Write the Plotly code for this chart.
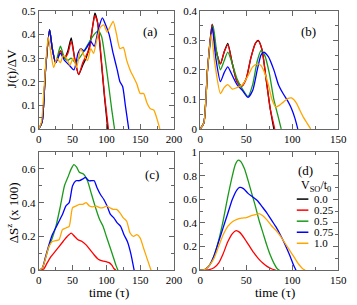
import plotly.graph_objects as go

# ---------------- data ----------------
series_names = ["0.0", "0.25", "0.5", "0.75", "1.0"]
series_colors = ["#000000", "#ff0000", "#1a9a1a", "#0000ff", "#ffa500"]

# panel (a)  J(t)/dV
a_black_t = [0, 5, 10, 16, 20, 25, 32, 38, 43, 48, 53, 59, 65, 70, 75, 80, 83, 87, 92, 97, 102]
a_black_y = [0, 0.03, 0.25, 0.42, 0.34, 0.28, 0.33, 0.30, 0.33, 0.385, 0.30, 0.23, 0.27, 0.30, 0.35, 0.44, 0.49, 0.45, 0.30, 0.14, 0]
a_red_t = [0, 5, 10, 16, 20, 25, 32, 38, 43, 48, 53, 59, 65, 70, 75, 80, 83, 87, 92, 97, 103]
a_red_y = [0, 0.03, 0.25, 0.42, 0.34, 0.28, 0.33, 0.30, 0.32, 0.37, 0.30, 0.23, 0.28, 0.31, 0.34, 0.44, 0.48, 0.45, 0.31, 0.15, 0]
a_green_t = [0, 5, 10, 16, 20, 25, 32, 38, 43, 48, 54, 60, 67, 75, 82, 88, 93, 98, 104, 108, 112]
a_green_y = [0, 0.03, 0.25, 0.42, 0.34, 0.28, 0.35, 0.30, 0.29, 0.30, 0.28, 0.30, 0.33, 0.37, 0.40, 0.415, 0.39, 0.30, 0.17, 0.08, 0]
a_blue_t = [0, 5, 10, 16, 20, 25, 32, 38, 45, 52, 58, 62, 67, 72, 77, 82, 88, 94, 99, 104, 110, 116, 120, 124, 128, 133]
a_blue_y = [0, 0.03, 0.25, 0.42, 0.34, 0.28, 0.32, 0.29, 0.27, 0.25, 0.32, 0.34, 0.33, 0.35, 0.37, 0.35, 0.42, 0.47, 0.44, 0.40, 0.32, 0.25, 0.20, 0.18, 0.10, 0]
a_orange_t = [0, 4, 9, 14, 18, 22, 27, 32, 36, 41, 46, 51, 56, 62, 67, 72, 77, 81, 86, 91, 96, 101, 105, 110, 115, 120, 125, 130, 135, 140, 145, 150, 155, 160, 165, 170, 174, 179]
a_orange_y = [0, 0.03, 0.22, 0.39, 0.32, 0.26, 0.30, 0.28, 0.31, 0.30, 0.27, 0.30, 0.26, 0.34, 0.31, 0.29, 0.34, 0.32, 0.38, 0.43, 0.44, 0.41, 0.43, 0.455, 0.40, 0.34, 0.345, 0.29, 0.25, 0.22, 0.19, 0.15, 0.15, 0.11, 0.085, 0.08, 0.05, 0]

# panel (b)  J(t)/dV
b_black_t = [0, 4, 8, 13, 17, 22, 26, 30, 35, 40, 45, 50, 55, 60, 63, 67, 72, 76, 80]
b_black_y = [0, 0.02, 0.2, 0.355, 0.27, 0.22, 0.26, 0.29, 0.22, 0.16, 0.145, 0.17, 0.24, 0.29, 0.30, 0.27, 0.16, 0.07, 0]
b_red_t = [0, 4, 8, 13, 17, 22, 26, 30, 35, 40, 45, 50, 55, 60, 63, 67, 72, 76, 81]
b_red_y = [0, 0.02, 0.2, 0.353, 0.27, 0.22, 0.26, 0.285, 0.22, 0.16, 0.145, 0.17, 0.24, 0.29, 0.298, 0.27, 0.16, 0.07, 0]
b_green_t = [0, 4, 8, 14, 18, 22, 26, 30, 35, 40, 45, 52, 57, 62, 66, 70, 75, 80, 84, 88]
b_green_y = [0, 0.02, 0.2, 0.35, 0.26, 0.2, 0.23, 0.26, 0.22, 0.17, 0.14, 0.11, 0.15, 0.23, 0.265, 0.25, 0.19, 0.10, 0.05, 0]
b_blue_t = [0, 4, 8, 13, 17, 22, 26, 30, 35, 40, 46, 52, 57, 62, 66, 69, 74, 80, 85, 90, 95, 99, 103, 106]
b_blue_y = [0, 0.02, 0.2, 0.345, 0.24, 0.16, 0.19, 0.21, 0.18, 0.15, 0.13, 0.107, 0.13, 0.2, 0.25, 0.26, 0.245, 0.2, 0.15, 0.12, 0.095, 0.07, 0.035, 0]
b_orange_t = [0, 4, 8, 12, 16, 22, 26, 30, 35, 40, 46, 52, 57, 62, 66, 70, 74, 78, 82, 86, 90, 95, 99, 104, 108, 112, 116, 120]
b_orange_y = [0, 0.02, 0.2, 0.32, 0.22, 0.12, 0.14, 0.15, 0.135, 0.14, 0.15, 0.18, 0.21, 0.22, 0.215, 0.19, 0.15, 0.10, 0.075, 0.08, 0.09, 0.103, 0.105, 0.09, 0.065, 0.04, 0.02, 0]

# panel (c)  dS^z (x 100)  (V_SO = 0 gives zero spin accumulation)
c_black_t = [0, 100]
c_black_y = [0, 0]
c_red_t = [0, 7, 12, 18, 24, 30, 36, 42, 48, 53, 58, 64, 70, 76, 82, 88, 94, 100, 104, 108, 111, 114]
c_red_y = [0, 0.005, 0.04, 0.08, 0.11, 0.14, 0.17, 0.2, 0.22, 0.2, 0.18, 0.17, 0.15, 0.12, 0.09, 0.065, 0.055, 0.05, 0.045, 0.03, 0.01, 0]
c_green_t = [0, 5, 10, 15, 20, 26, 32, 38, 43, 48, 52, 56, 60, 66, 72, 78, 84, 90, 95, 100, 105, 110, 114, 117]
c_green_y = [0, 0.01, 0.07, 0.14, 0.19, 0.27, 0.38, 0.5, 0.55, 0.6, 0.625, 0.61, 0.58, 0.57, 0.53, 0.45, 0.37, 0.3, 0.26, 0.2, 0.14, 0.08, 0.03, 0]
c_blue_t = [0, 5, 10, 15, 20, 25, 30, 35, 40, 45, 50, 55, 60, 65, 69, 74, 78, 82, 86, 91, 96, 101, 106, 111, 116, 121, 126, 131, 136, 141]
c_blue_y = [0, 0.01, 0.08, 0.15, 0.21, 0.25, 0.29, 0.33, 0.38, 0.4, 0.5, 0.53, 0.53, 0.54, 0.55, 0.53, 0.53, 0.53, 0.49, 0.45, 0.42, 0.38, 0.33, 0.31, 0.28, 0.26, 0.21, 0.17, 0.1, 0]
c_orange_t = [0, 5, 10, 15, 20, 25, 30, 35, 40, 45, 50, 55, 60, 65, 70, 75, 80, 85, 90, 95, 100, 105, 110, 115, 120, 125, 130, 135, 140, 145, 150, 155, 160, 166]
c_orange_y = [0, 0.01, 0.07, 0.14, 0.17, 0.175, 0.18, 0.24, 0.25, 0.26, 0.37, 0.38, 0.39, 0.39, 0.4, 0.38, 0.375, 0.38, 0.37, 0.37, 0.38, 0.37, 0.36, 0.36, 0.34, 0.31, 0.29, 0.22, 0.2, 0.21, 0.19, 0.13, 0.07, 0]

# panel (d)  dS^z (x 100)
d_black_t = [0, 100]
d_black_y = [0, 0]
d_red_t = [0, 10, 15, 20, 25, 30, 35, 39, 43, 48, 53, 58, 63, 68, 73, 78, 82]
d_red_y = [0, 0.005, 0.02, 0.06, 0.14, 0.24, 0.31, 0.335, 0.32, 0.27, 0.21, 0.15, 0.1, 0.06, 0.03, 0.01, 0]
d_green_t = [0, 5, 10, 15, 20, 25, 30, 35, 38, 41, 44, 48, 52, 56, 60, 64, 68, 72, 76, 80, 84, 86]
d_green_y = [0, 0.005, 0.04, 0.12, 0.25, 0.42, 0.62, 0.8, 0.89, 0.93, 0.92, 0.86, 0.76, 0.65, 0.54, 0.42, 0.32, 0.22, 0.13, 0.06, 0.01, 0]
d_blue_t = [0, 5, 10, 15, 20, 25, 30, 35, 40, 43, 47, 52, 57, 62, 67, 72, 77, 82, 87, 92, 97, 101, 104]
d_blue_y = [0, 0.005, 0.04, 0.12, 0.24, 0.36, 0.48, 0.6, 0.68, 0.7, 0.69, 0.65, 0.62, 0.59, 0.54, 0.49, 0.43, 0.37, 0.3, 0.22, 0.13, 0.05, 0]
d_orange_t = [0, 5, 10, 15, 20, 25, 30, 35, 40, 45, 50, 55, 60, 64, 68, 72, 77, 82, 87, 92, 97, 102, 107, 111, 114]
d_orange_y = [0, 0.005, 0.04, 0.1, 0.2, 0.3, 0.37, 0.41, 0.43, 0.44, 0.445, 0.46, 0.47, 0.478, 0.46, 0.43, 0.38, 0.34, 0.29, 0.23, 0.17, 0.11, 0.05, 0.015, 0]

panels = {
    "a": [(a_black_t, a_black_y), (a_red_t, a_red_y), (a_green_t, a_green_y), (a_blue_t, a_blue_y), (a_orange_t, a_orange_y)],
    "b": [(b_black_t, b_black_y), (b_red_t, b_red_y), (b_green_t, b_green_y), (b_blue_t, b_blue_y), (b_orange_t, b_orange_y)],
    "c": [(c_black_t, c_black_y), (c_red_t, c_red_y), (c_green_t, c_green_y), (c_blue_t, c_blue_y), (c_orange_t, c_orange_y)],
    "d": [(d_black_t, d_black_y), (d_red_t, d_red_y), (d_green_t, d_green_y), (d_blue_t, d_blue_y), (d_orange_t, d_orange_y)],
}
axis_ids = {"a": ("x", "y"), "b": ("x2", "y2"), "c": ("x3", "y3"), "d": ("x4", "y4")}

# ---------------- figure ----------------
W, H = 357, 305
fig = go.Figure()
for key, curves in panels.items():
    xa, ya = axis_ids[key]
    for (t, v), name, col in zip(curves, series_names, series_colors):
        fig.add_trace(go.Scatter(x=t, y=v, mode="lines", name=name, xaxis=xa, yaxis=ya,
                                 line=dict(color=col, width=1.3, shape="spline", smoothing=0.6),
                                 visible=True if any(v) else False,
                                 showlegend=False, hoverinfo="skip"))

FONT = '"Liberation Serif", "Times New Roman", Times, serif'
AX = "#666666"
TICK = 11

def xax(dom, rng, anchor):
    return dict(domain=dom, range=rng, anchor=anchor, dtick=50, tick0=0,
                ticks="inside", ticklen=5, tickcolor=AX, showline=True, linecolor=AX,
                linewidth=1, mirror="ticks", showgrid=False, zeroline=False,
                ticklabeloverflow="allow",
                tickfont=dict(family=FONT, size=TICK, color="black"),
                minor=dict(dtick=25, ticks="inside", ticklen=3, tickcolor=AX, showgrid=False))

def yax(dom, rng, dt, mdt, anchor):
    return dict(domain=dom, range=rng, anchor=anchor, dtick=dt, tick0=0,
                ticks="inside", ticklen=5, tickcolor=AX, showline=True, linecolor=AX,
                linewidth=1, mirror="ticks", showgrid=False, zeroline=False,
                tickfont=dict(family=FONT, size=TICK, color="black"),
                minor=dict(dtick=mdt, ticks="inside", ticklen=3, tickcolor=AX, showgrid=False))

xl = [37 / W, 177 / W]
xr = [204 / W, 347 / W]
yt = [1 - 128 / H, 1 - 5 / H]
yb = [1 - 275 / H, 1 - 152 / H]

fig.update_layout(
    width=W, height=H, margin=dict(l=0, r=0, t=0, b=0),
    paper_bgcolor="white", plot_bgcolor="white", showlegend=False,
    font=dict(family=FONT, size=TICK, color="black"),
    xaxis=xax(xl, [0, 200], "y"), yaxis=yax(yt, [0, 0.5], 0.1, 0.05, "x"),
    xaxis2=xax(xr, [0, 150], "y2"), yaxis2=yax(yt, [0, 0.4], 0.1, 0.05, "x2"),
    xaxis3=xax(xl, [0, 200], "y3"), yaxis3=yax(yb, [0, 0.7], 0.2, 0.1, "x3"),
    xaxis4=xax(xr, [0, 150], "y4"), yaxis4=yax(yb, [0, 1.0], 0.2, 0.1, "x4"),
)

def ann(text, xp, yp, size=13, angle=0, xanchor="center"):
    fig.add_annotation(text=text, x=xp / W, y=1 - yp / H, xref="paper", yref="paper",
                       showarrow=False, textangle=angle, xanchor=xanchor, yanchor="middle",
                       borderpad=0, font=dict(family=FONT, size=size, color="black"))

ann("(a)", 152, 27)
ann("(b)", 316, 27)
ann("(c)", 154, 175)
ann("(d)", 313, 171)
ann("J(t)/ΔV", 9, 65, angle=-90)
ann("ΔS<sup>z</sup> (x 100)", 9, 215, angle=-90)
ann("time (τ)", 110, 298.5)
ann("time (τ)", 281, 298.5)

# manual compact legend inside panel (d)
ann("V<sub>SO</sub>/t<sub>0</sub>", 324, 187, size=12)
row_y = [201, 212.5, 224, 235.5, 247]
for name, col, ry in zip(series_names, series_colors, row_y):
    fig.add_shape(type="line", xref="paper", yref="paper",
                  x0=304 / W, x1=316 / W, y0=1 - ry / H, y1=1 - ry / H,
                  line=dict(color=col, width=1.5))
    ann(name, 321, ry, size=11, xanchor="left")

fig.write_html("out.html", config={"displayModeBar": False, "staticPlot": True},
               post_script="document.body.style.margin='0px';document.body.style.overflow='hidden';")
